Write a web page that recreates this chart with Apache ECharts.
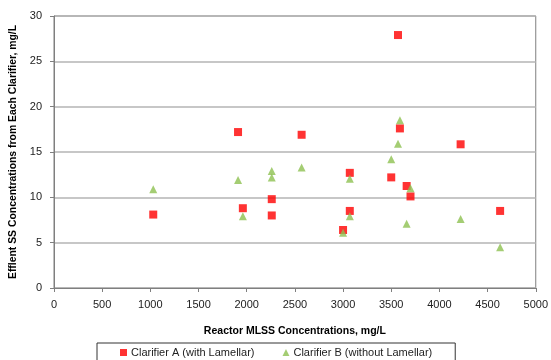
<!DOCTYPE html>
<html>
<head>
<meta charset="utf-8">
<script src="https://cdn.jsdelivr.net/npm/echarts@6/dist/echarts.min.js"></script>
<style>html,body{margin:0;padding:0;background:#fff}#c{width:551px;height:360px}</style>
</head>
<body>
<div id="c"></div>
<script>
const mlss   = [1030, 1910, 1960, 2260, 2260, 2570, 3000, 3070, 3070, 3500, 3570, 3590, 3660, 3700, 4220, 4630];
const clarA  = [8.1, 17.2, 8.8, 9.8, 8.0, 16.9, 6.4, 12.7, 8.5, 12.2, 27.9, 17.6, 11.25, 10.1, 15.85, 8.5];
const mlssB  = [1030, 1910, 1960, 2260, 2260, 2570, 3000, 3070, 3070, 3500, 3570, 3590, 3660, 3700, 4220, 4630];
const clarB  = [10.9, 11.9, 7.9, 12.9, 12.2, 13.3, 6.1, 12.05, 7.9, 14.2, 15.9, 18.5, 7.1, 11.0, 7.6, 4.5];
const seriesNames = ['Clarifier A (with Lamellar)', 'Clarifier B (without Lamellar)'];
const xTitle = 'Reactor MLSS Concentrations, mg/L';
const yTitle = 'Efflent SS Concentrations from Each Clarifier, mg/L';

const chart = echarts.init(document.getElementById('c'), null, {renderer: 'canvas'});
const font = 'Liberation Sans, Arial, sans-serif';
chart.setOption({
  animation: false,
  backgroundColor: '#fff',
  grid: {left: 51, right: 15, top: 16, bottom: 72, show: true, borderColor: '#7f7f7f', borderWidth: 1},
  xAxis: {
    type: 'value', min: 0, max: 5000, interval: 500,
    name: xTitle, nameLocation: 'middle', nameGap: 38,
    nameTextStyle: {fontFamily: font, fontWeight: 'bold', fontSize: 10.5, color: '#000'},
    axisLine: {show: true, lineStyle: {color: '#7f7f7f', width: 1}},
    axisTick: {show: true, length: 4, lineStyle: {color: '#7f7f7f'}},
    axisLabel: {fontFamily: font, fontSize: 11, color: '#222', margin: 11, formatter: v => String(v)},
    splitLine: {show: false}
  },
  yAxis: {
    type: 'value', min: 0, max: 30, interval: 5,
    name: yTitle, nameLocation: 'middle', nameGap: 36, nameRotate: 90,
    nameTextStyle: {fontFamily: font, fontWeight: 'bold', fontSize: 10.4, color: '#000'},
    axisLine: {show: true, lineStyle: {color: '#7f7f7f', width: 1}},
    axisTick: {show: true, length: 4, lineStyle: {color: '#7f7f7f'}},
    axisLabel: {fontFamily: font, fontSize: 11, color: '#222', margin: 12},
    splitLine: {show: true, lineStyle: {color: '#b5b5b5', width: 1.5}}
  },
  legend: {
    data: [
      {name: seriesNames[0], icon: 'rect'},
      {name: seriesNames[1], icon: 'triangle'}
    ],
    left: 97, top: 343,
    itemWidth: 7, itemHeight: 7, itemGap: 28,
    padding: [4, 23, 4, 23],
    borderColor: '#333', borderWidth: 1,
    textStyle: {fontFamily: font, fontSize: 11, color: '#222', padding: [0, 0, 0, -1]}
  },
  series: [
    {
      name: seriesNames[0], type: 'scatter', symbol: 'rect', symbolSize: 8,
      itemStyle: {color: '#ff0000'},
      data: mlss.map((x, i) => [x, clarA[i]])
    },
    {
      name: seriesNames[1], type: 'scatter', symbol: 'triangle', symbolSize: [8, 8],
      itemStyle: {color: '#8dc050'},
      data: mlssB.map((x, i) => [x, clarB[i]])
    }
  ]
});
</script>
</body>
</html>
